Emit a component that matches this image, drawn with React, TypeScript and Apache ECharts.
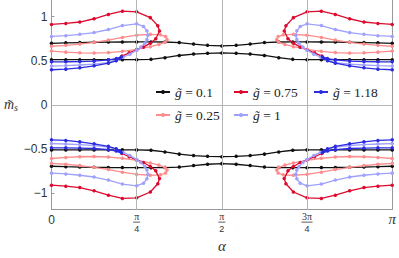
import React, { useEffect, useRef } from 'react';
import * as echarts from 'echarts';

// x axis in units of pi (alpha / pi)
const xTicks = [0, 0.25, 0.5, 0.75, 1];
const xTickNum = ['0', 'π', 'π', '3π', 'π'];
const xTickDen = ['', '4', '2', '4', ''];
const yTicks = [-1, -0.5, 0, 0.5, 1];
const yTickLabels = ['−1', '−0.5', '0', '0.5', '1'];

const gLabels = ['0.1', '0.25', '0.75', '1', '1.18'];
const gColors = ['#111111', '#ff8c8c', '#dc0a2e', '#a0a0ff', '#2b2be0'];

// g = 0.1 : two curves across the whole range (left half read, right half symmetric)
const blackAlpha = [0, 0.042, 0.083, 0.125, 0.167, 0.208, 0.25, 0.292, 0.333, 0.375, 0.417, 0.458, 0.5];
const blackUpper = [0.698, 0.703, 0.707, 0.71, 0.712, 0.713, 0.714, 0.714, 0.713, 0.707, 0.69, 0.675, 0.668];
const blackLower = [0.512, 0.512, 0.512, 0.512, 0.512, 0.512, 0.512, 0.516, 0.535, 0.56, 0.576, 0.585, 0.589];

// g = 0.25 loop (upper-left quadrant)
const pinkAlpha = [0, 0.042, 0.083, 0.125, 0.167, 0.208, 0.25, 0.29, 0.32, 0.335, 0.339, 0.333, 0.315, 0.29, 0.25, 0.208, 0.167, 0.125, 0.083, 0.042, 0];
const pinkM = [0.665, 0.675, 0.69, 0.71, 0.735, 0.765, 0.79, 0.8, 0.795, 0.775, 0.74, 0.71, 0.685, 0.66, 0.63, 0.607, 0.593, 0.587, 0.59, 0.598, 0.61];

// g = 0.75 loop
const redAlpha = [0, 0.042, 0.083, 0.125, 0.167, 0.208, 0.25, 0.29, 0.312, 0.317, 0.306, 0.29, 0.27, 0.25, 0.228, 0.207];
const redM = [0.913, 0.924, 0.94, 0.977, 1.026, 1.063, 1.056, 0.99, 0.897, 0.838, 0.75, 0.7, 0.655, 0.625, 0.59, 0.553];

// g = 1 loop
const lbAlpha = [0, 0.042, 0.083, 0.125, 0.167, 0.208, 0.25, 0.27, 0.28, 0.283, 0.28, 0.274, 0.262, 0.25, 0.23, 0.21, 0.19, 0.167, 0.125, 0.083, 0.042, 0];
const lbM = [0.776, 0.785, 0.8, 0.82, 0.855, 0.9, 0.92, 0.89, 0.84, 0.79, 0.74, 0.7, 0.655, 0.62, 0.575, 0.54, 0.505, 0.48, 0.462, 0.452, 0.445, 0.44];

// g = 1.18 loop
const dbAlpha = [0, 0.042, 0.083, 0.125, 0.167, 0.19, 0.205, 0.2, 0.19, 0.167, 0.125, 0.083, 0.042, 0];
const dbM = [0.488, 0.489, 0.491, 0.496, 0.51, 0.525, 0.545, 0.525, 0.5, 0.472, 0.443, 0.42, 0.405, 0.398];

type Pt = [number, number];

function zipPts(a: number[], m: number[]): Pt[] {
  return a.map((v, i) => [v, m[i]] as Pt);
}

function quadrants(pts: Pt[]): Pt[][] {
  return [
    pts,
    pts.map(([a, m]) => [1 - a, m] as Pt),
    pts.map(([a, m]) => [a, -m] as Pt),
    pts.map(([a, m]) => [1 - a, -m] as Pt),
  ];
}

function fullWidth(pts: Pt[]): Pt[] {
  const right = pts.slice(0, -1).reverse().map(([a, m]) => [1 - a, m] as Pt);
  return pts.concat(right);
}

function lineSeries(name: string, color: string, data: Pt[], z: number) {
  return {
    type: 'line',
    name,
    data,
    z,
    symbol: 'circle',
    symbolSize: 3.5,
    showSymbol: true,
    silent: true,
    lineStyle: { color, width: 1.3 },
    itemStyle: { color },
    emphasis: { disabled: true },
  };
}

export default function App() {
  const ref = useRef<HTMLDivElement>(null);

  useEffect(() => {
    if (!ref.current) return;
    const chart = echarts.init(ref.current, undefined, { renderer: 'svg' });

    const series: any[] = [];
    // grid lines
    series.push({
      type: 'line',
      name: '_grid',
      data: [],
      z: 1,
      silent: true,
      markLine: {
        silent: true,
        symbol: ['none', 'none'],
        label: { show: false },
        lineStyle: { color: '#b5b5b5', width: 1, type: 'solid' },
        data: [{ xAxis: 0.25 }, { xAxis: 0.5 }, { xAxis: 0.75 }, { yAxis: 0 }],
      },
    });

    const blackU = fullWidth(zipPts(blackAlpha, blackUpper));
    const blackL = fullWidth(zipPts(blackAlpha, blackLower));
    [blackU, blackL].forEach((pts) => {
      series.push(lineSeries(gLabels[0], gColors[0], pts, 2));
      series.push(lineSeries(gLabels[0], gColors[0], pts.map(([a, m]) => [a, -m] as Pt), 2));
    });
    const loops: [number[], number[]][] = [
      [pinkAlpha, pinkM],
      [redAlpha, redM],
      [lbAlpha, lbM],
      [dbAlpha, dbM],
    ];
    loops.forEach(([a, m], i) => {
      quadrants(zipPts(a, m)).forEach((pts) => {
        series.push(lineSeries(gLabels[i + 1], gColors[i + 1], pts, 3 + i));
      });
    });

    const legendText = {
      fontFamily: 'Liberation Serif',
      fontSize: 13,
      color: '#222',
      rich: {
        g: { fontFamily: 'Liberation Serif', fontStyle: 'italic', fontSize: 13.5, color: '#222' },
        t: { fontFamily: 'Liberation Serif', fontSize: 13.5, color: '#222' },
      },
    };
    const legendBase = {
      orient: 'vertical',
      padding: 0,
      itemWidth: 14,
      itemHeight: 5,
      itemGap: 9,
      selectedMode: false,
      textStyle: legendText,
      formatter: (n: string) => `{g|g\u0303}{t| = ${n}}`,
    };

    const fracRich: any = {
      z: { fontFamily: 'Liberation Sans', fontSize: 12, color: '#333', lineHeight: 14 },
      p: { fontFamily: 'Liberation Serif', fontStyle: 'italic', fontSize: 15, color: '#333', lineHeight: 12 },
      n: { fontFamily: 'Liberation Serif', fontSize: 10, color: '#333', lineHeight: 8 },
      d: { fontFamily: 'Liberation Sans', fontSize: 9, color: '#333', lineHeight: 10 },
      b1: { width: 7, height: 0.8, lineHeight: 3, backgroundColor: '#333', fontSize: 1 },
      b2: { width: 11, height: 0.8, lineHeight: 3, backgroundColor: '#333', fontSize: 1 },
    };

    chart.setOption({
      animation: false,
      backgroundColor: '#ffffff',
      grid: { left: 51.5, right: 4.7, top: 0, bottom: 47, containLabel: false },
      legend: [
        { ...legendBase, left: 155, top: 85, data: [gLabels[0], gLabels[1]] },
        { ...legendBase, left: 233, top: 85, data: [gLabels[2], gLabels[3]] },
        { ...legendBase, left: 313, top: 85, data: [gLabels[4]] },
      ],
      xAxis: {
        type: 'value',
        min: 0,
        max: 1,
        name: 'α',
        nameLocation: 'middle',
        nameGap: 28,
        nameTextStyle: { fontFamily: 'Liberation Serif', fontStyle: 'italic', fontSize: 15, color: '#333' },
        axisLine: { show: true, onZero: false, lineStyle: { color: '#999', width: 1 } },
        axisTick: { show: true, inside: true, length: 3, customValues: xTicks, lineStyle: { color: '#999' } },
        splitLine: { show: false },
        axisLabel: {
          customValues: xTicks,
          margin: 3,
          color: '#333',
          rich: fracRich,
          formatter: (v: number) => {
            const i = xTicks.findIndex((t) => Math.abs(t - v) < 1e-9);
            if (i < 0) return '';
            if (xTickDen[i] === '') {
              return xTickNum[i] === '0' ? `{z|${xTickNum[i]}}` : `{p|${xTickNum[i]}}`;
            }
            const bar = xTickNum[i].length > 1 ? 'b2' : 'b1';
            return `{n|${xTickNum[i]}}\n{${bar}| }\n{d|${xTickDen[i]}}`;
          },
        },
      },
      yAxis: [
        {
          type: 'value',
          min: -1.19,
          max: 1.19,
          name: '{m|m\u0303}{s|s}',
          nameLocation: 'middle',
          nameRotate: 0,
          nameGap: 25,
          nameTextStyle: {
            rich: {
              m: { fontFamily: 'Liberation Serif', fontStyle: 'italic', fontSize: 14, color: '#333' },
              s: { fontFamily: 'Liberation Serif', fontStyle: 'italic', fontSize: 10, color: '#333', verticalAlign: 'bottom', padding: [6, 0, 0, 0] },
            },
          },
          axisLine: { show: true, onZero: false, lineStyle: { color: '#999', width: 1 } },
          axisTick: { show: true, inside: true, length: 3, customValues: yTicks, lineStyle: { color: '#999' } },
          splitLine: { show: false },
          axisLabel: {
            customValues: yTicks,
            margin: 4,
            fontFamily: 'Liberation Sans',
            fontSize: 12,
            color: '#333',
            formatter: (v: number) => {
              const i = yTicks.findIndex((t) => Math.abs(t - v) < 1e-9);
              return i < 0 ? '' : yTickLabels[i];
            },
          },
        },
        {
          type: 'value',
          min: -1.19,
          max: 1.19,
          position: 'right',
          axisLine: { show: true, onZero: false, lineStyle: { color: '#999', width: 1 } },
          axisTick: { show: false },
          axisLabel: { show: false },
          splitLine: { show: false },
        },
      ],
      series,
    });

    return () => chart.dispose();
  }, []);

  return <div ref={ref} style={{ width: 399, height: 258, position: 'absolute', left: 0, top: 0 }} />;
}
